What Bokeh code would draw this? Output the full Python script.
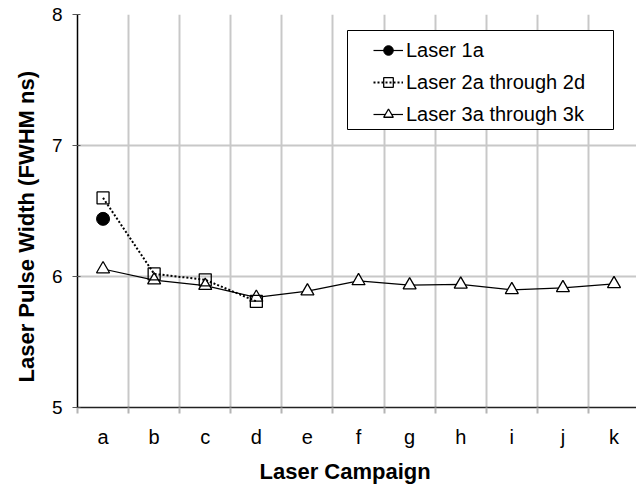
from bokeh.plotting import figure
from bokeh.models import (Range1d, FixedTicker, Legend, LegendItem, BoxAnnotation,
                          CustomJSTickFormatter, Title)
from bokeh.embed import file_html
from bokeh.resources import INLINE

# ---- data ----
categories = ["a", "b", "c", "d", "e", "f", "g", "h", "i", "j", "k"]

laser1_campaigns = ["a"]
laser1_values = [6.44]

laser2_campaigns = ["a", "b", "c", "d"]
laser2_values = [6.60, 6.02, 5.975, 5.81]

laser3_campaigns = ["a", "b", "c", "d", "e", "f", "g", "h", "i", "j", "k"]
laser3_values = [6.057, 5.972, 5.93, 5.84, 5.888, 5.966, 5.934, 5.94, 5.898, 5.913, 5.944]

y_ticks = [5, 6, 7, 8]
series_names = ["Laser 1a", "Laser 2a through 2d", "Laser 3a through 3k"]
x_title = "Laser Campaign"
y_title = "Laser Pulse Width (FWHM ns)"

FONT = "Liberation Sans"

# category -> centre position on a numeric axis (one unit per campaign)
pos = {c: i + 0.5 for i, c in enumerate(categories)}
x1 = [pos[c] for c in laser1_campaigns]
x2 = [pos[c] for c in laser2_campaigns]
x3 = [pos[c] for c in laser3_campaigns]

p = figure(width=636, height=491, output_backend="svg", toolbar_location=None,
           x_range=Range1d(0, 10.94), y_range=Range1d(5, 8),
           min_border_left=77, min_border_right=0, min_border_top=14, min_border_bottom=84)
p.outline_line_color = None
p.background_fill_color = "white"
p.border_fill_color = "white"

# ---- grids ----
p.xgrid.ticker = FixedTicker(ticks=list(range(len(categories) + 1)))
p.xgrid.grid_line_color = "#c8c8c8"
p.xgrid.grid_line_width = 2
p.ygrid.ticker = FixedTicker(ticks=y_ticks)
p.ygrid.grid_line_color = "#c8c8c8"
p.ygrid.grid_line_width = 2

# ---- x axis ----
xa = p.xaxis[0]
xa.ticker = FixedTicker(ticks=[pos[c] for c in categories],
                        minor_ticks=list(range(len(categories) + 1)))
xa.formatter = CustomJSTickFormatter(args=dict(cats=categories),
                                     code="return cats[Math.floor(tick)] || '';")
xa.major_tick_line_color = None
xa.minor_tick_line_color = "#b4b4b4"
xa.minor_tick_line_width = 2
xa.minor_tick_out = 6
xa.minor_tick_in = 0
xa.axis_line_color = "#222222"
xa.axis_line_width = 1.5
xa.major_label_text_font = FONT
xa.major_label_text_font_size = "20px"
xa.major_label_text_color = "black"
xa.major_label_standoff = 12

p.add_layout(Title(text=x_title, align="left", offset=182, standoff=13,
                   text_font=FONT, text_font_size="22px", text_font_style="bold",
                   text_color="black"), "below")

# ---- y axis ----
ya = p.yaxis[0]
ya.ticker = FixedTicker(ticks=y_ticks)
ya.minor_tick_line_color = None
ya.major_tick_line_color = "#555555"
ya.major_tick_out = 5
ya.major_tick_in = 3
ya.axis_line_color = "black"
ya.axis_line_width = 1.5
ya.major_label_text_font = FONT
ya.major_label_text_font_size = "19px"
ya.major_label_text_color = "black"
ya.major_label_standoff = 10

p.add_layout(Title(text=y_title, align="left", offset=25, standoff=20,
                   text_font=FONT, text_font_size="22px", text_font_style="bold",
                   text_color="black"), "left")

# ---- series ----
l3 = p.line(x3, laser3_values, line_color="black", line_width=1.2)
s3 = p.scatter(x3, laser3_values, marker="triangle", size=13,
               fill_color="white", line_color="black", line_width=1.3)

l2 = p.line(x2, laser2_values, line_color="black", line_width=2, line_dash="2 2")
s2 = p.scatter(x2, laser2_values, marker="square", size=12,
               fill_color=None, line_color="black", line_width=1.3)

l1 = p.line(x1, laser1_values, line_color="black", line_width=1.2)
s1 = p.scatter(x1, laser1_values, marker="circle", size=13,
               fill_color="black", line_color="black")

# ---- legend (frame drawn as a box, items placed inside) ----
box = BoxAnnotation(left=347, right=613, top=30, bottom=129,
                    left_units="canvas", right_units="canvas",
                    top_units="canvas", bottom_units="canvas",
                    fill_color="white", fill_alpha=1.0,
                    line_color="black", line_width=1, line_alpha=1.0)
p.add_layout(box)

legend = Legend(items=[
    LegendItem(label=series_names[0], renderers=[l1, s1]),
    LegendItem(label=series_names[1], renderers=[l2, s2]),
    LegendItem(label=series_names[2], renderers=[l3, s3]),
], location=(296, 281), glyph_width=30, glyph_height=24, label_height=24,
    spacing=8, label_standoff=3, padding=0, margin=0,
    border_line_alpha=0, background_fill_alpha=0,
    label_text_font=FONT, label_text_font_size="20px", label_text_color="black")
p.add_layout(legend)

open("out.html", "w").write(file_html(p, INLINE))
